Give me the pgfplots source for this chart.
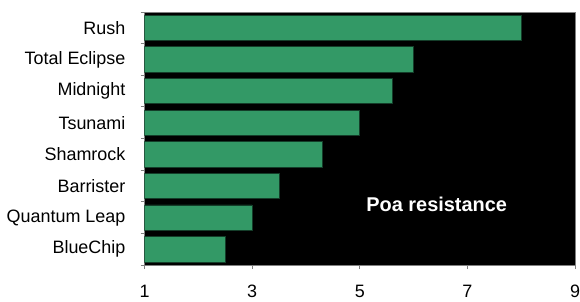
\documentclass[border=0pt]{standalone}
\usepackage{pgfplots}
\pgfplotsset{compat=1.18}
\usepackage{fontspec}
\setmainfont{Liberation Sans}
\definecolor{barg}{RGB}{51,153,102}
\definecolor{axg}{RGB}{128,128,128}
\begin{document}
\begin{tikzpicture}
\begin{axis}[
  at={(0pt,0pt)}, anchor=south west,
  scale only axis,
  width=432pt, height=254pt,
  xbar, bar width=0.8,
  xmin=1, xmax=9, ymin=0.5, ymax=8.5,
  xtick={1,3,5,7,9},
  ytick={1,...,8},
  yticklabels={BlueChip,Quantum Leap,Barrister,Shamrock,Tsunami,Midnight,Total Eclipse,Rush},
  minor ytick={0.5,1.5,...,8.5},
  tick align=outside,
  xtick pos=bottom, ytick pos=left,
  major tick length=4pt, minor tick length=4pt,
  major y tick style={draw=none},
  minor y tick style={draw=axg, line width=0.8pt},
  x tick style={draw=axg, line width=0.8pt},
  axis line style={draw=axg, line width=0.8pt},
  axis background/.style={fill=black},
  /pgf/number format/assume math mode=true,
  ticklabel style={font=\fontsize{18}{20}\selectfont, inner sep=0pt},
  yticklabel style={xshift=-15pt},
  xticklabel style={anchor=north, yshift=-16pt},
]
\addplot[fill=barg, draw=black!60!barg, line width=0.6pt] coordinates {
  (2.5,1) (3.0,2) (3.5,3) (4.3,4) (5.0,5) (5.6,6) (6.0,7) (8.0,8)
};
\node[text=white, font=\bfseries\fontsize{20}{22}\selectfont] at (axis cs:6.43,2.42) {Poa resistance};
\end{axis}
\path[use as bounding box] (-145pt,-37pt) rectangle (435pt,266pt);
\end{tikzpicture}
\end{document}
